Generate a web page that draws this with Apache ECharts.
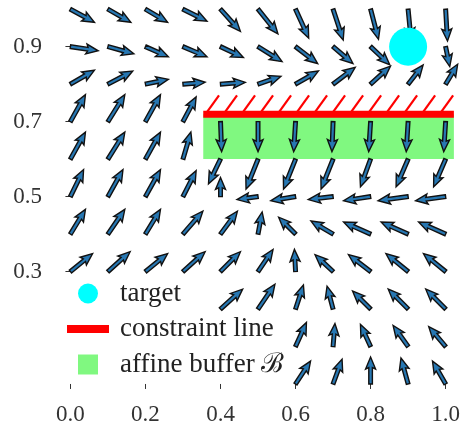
<!DOCTYPE html>
<html>
<head>
<meta charset="utf-8">
<script src="https://cdn.jsdelivr.net/npm/echarts@6/dist/echarts.min.js"></script>
<style>
html,body{margin:0;padding:0;background:#fff;}
#chart{width:463px;height:438px;}
</style>
</head>
<body>
<div id="chart"></div>
<script>
// ---- data ----
const xTickValues = [0.0, 0.2, 0.4, 0.6, 0.8, 1.0];
const yTickValues = [0.3, 0.5, 0.7, 0.9];

// quiver: tail positions and components (data units)
const arrowX = [
  0.0,0.1,0.2,0.3,0.4,0.5,0.6,0.7,0.8,0.9,1.0,
  0.0,0.1,0.2,0.3,0.4,0.5,0.6,0.7,0.8,1.0,
  0.0,0.1,0.2,0.3,0.4,0.5,0.6,0.7,0.8,0.9,1.0,
  0.0,0.1,0.2,0.3,0.4,0.5,0.6,0.7,0.8,0.9,1.0,
  0.0,0.1,0.2,0.3,0.4,0.5,0.6,0.7,0.8,0.9,1.0,
  0.0,0.1,0.2,0.3,0.4,0.5,0.6,0.7,0.8,0.9,1.0,
  0.0,0.1,0.2,0.3,0.4,0.5,0.6,0.7,0.8,0.9,1.0,
  0.0,0.1,0.2,0.3,0.4,0.5,0.6,0.7,0.8,0.9,1.0,
  0.4,0.5,0.6,0.7,0.8,0.9,1.0,
  0.6,0.7,0.8,0.9,1.0,
  0.6,0.7,0.8,0.9,1.0
];
const arrowY = [
  1.0,1.0,1.0,1.0,1.0,1.0,1.0,1.0,1.0,1.0,1.0,
  0.9,0.9,0.9,0.9,0.9,0.9,0.9,0.9,0.9,0.9,
  0.8,0.8,0.8,0.8,0.8,0.8,0.8,0.8,0.8,0.8,0.8,
  0.7,0.7,0.7,0.7,0.7,0.7,0.7,0.7,0.7,0.7,0.7,
  0.6,0.6,0.6,0.6,0.6,0.6,0.6,0.6,0.6,0.6,0.6,
  0.5,0.5,0.5,0.5,0.5,0.5,0.5,0.5,0.5,0.5,0.5,
  0.4,0.4,0.4,0.4,0.4,0.4,0.4,0.4,0.4,0.4,0.4,
  0.3,0.3,0.3,0.3,0.3,0.3,0.3,0.3,0.3,0.3,0.3,
  0.2,0.2,0.2,0.2,0.2,0.2,0.2,
  0.1,0.1,0.1,0.1,0.1,
  0.0,0.0,0.0,0.0,0.0
];
const arrowU = [
  0.064,0.061,0.059,0.064,0.053,0.053,0.035,0.027,0.021,0.008,0.005,
  0.074,0.069,0.061,0.064,0.061,0.064,0.059,0.053,0.051,0.011,
  0.064,0.066,0.061,0.059,0.066,0.061,0.061,0.059,0.053,0.040,0.032,
  0.040,0.045,0.040,0.035,0.003,0.000,-0.005,-0.003,-0.005,-0.005,-0.005,
  0.040,0.045,0.040,0.021,-0.032,-0.032,-0.032,-0.032,-0.027,-0.032,-0.032,
  0.035,0.040,0.040,0.035,0.000,-0.056,-0.066,-0.066,-0.072,-0.080,-0.080,
  0.040,0.045,0.040,0.053,0.045,0.011,-0.045,-0.059,-0.072,-0.072,-0.072,
  0.059,0.059,0.059,0.059,0.053,0.040,-0.003,-0.048,-0.059,-0.059,-0.059,
  0.059,0.045,0.021,-0.016,-0.048,-0.053,-0.053,
  0.029,0.005,-0.027,-0.040,-0.045,
  0.040,0.024,0.000,-0.019,-0.035
];
const arrowV = [
  -0.035,-0.035,-0.035,-0.032,-0.059,-0.066,-0.077,-0.082,-0.080,-0.082,-0.085,
  -0.011,-0.019,-0.027,-0.027,-0.029,-0.040,-0.045,-0.045,-0.048,-0.053,
  0.037,0.035,0.013,0.005,0.005,0.021,0.035,0.045,0.048,0.051,0.053,
  0.072,0.072,0.072,0.066,-0.080,-0.080,-0.080,-0.080,-0.080,-0.080,-0.080,
  0.072,0.072,0.072,0.072,-0.066,-0.080,-0.080,-0.080,-0.074,-0.074,-0.074,
  0.072,0.072,0.072,0.069,0.051,-0.008,-0.011,-0.008,-0.011,-0.011,-0.011,
  0.066,0.066,0.066,0.061,0.061,0.059,0.045,0.035,0.032,0.032,0.032,
  0.048,0.053,0.048,0.053,0.053,0.059,0.059,0.045,0.045,0.048,0.048,
  0.053,0.066,0.064,0.061,0.048,0.053,0.053,
  0.064,0.061,0.059,0.056,0.053,
  0.061,0.066,0.072,0.069,0.061
];

const target = [0.9, 0.9];
const constraintY = 0.72;
const constraintX = [0.354, 1.022];
const bufferY = [0.60, 0.72];
const hatchX = [0.360,0.408,0.456,0.504,0.552,0.600,0.648,0.696,0.744,0.792,0.840,0.888,0.936,0.984];
const hatchTop = 0.77;
const hatchDx = 0.036;

const legendNames = ['target', 'constraint line', 'affine buffer \u212C'];

// ---- chart ----
const FONT = 'Liberation Serif';
const quiverData = arrowX.map((x, i) => [x, arrowY[i], arrowU[i], arrowV[i]]);

const chart = echarts.init(document.getElementById('chart'), null, {renderer: 'canvas'});

function arrowItem(params, api) {
  const x = api.value(0), y = api.value(1), u = api.value(2), v = api.value(3);
  const p0 = api.coord([x, y]);
  const p1 = api.coord([x + u, y + v]);
  const dx = p1[0] - p0[0], dy = p1[1] - p0[1];
  const L = Math.hypot(dx, dy);
  if (L < 0.5) return null;
  const ux = dx / L, uy = dy / L, nx = -uy, ny = ux;
  let hl = 12, hal = 10.5, hw = 5.0, sw = 1.8;
  if (L < hl * 1.3) { const s = L / (hl * 1.3); hl *= s; hal *= s; hw *= s; sw *= s; }
  const pt = (a, b) => [p0[0] + ux * a + nx * b, p0[1] + uy * a + ny * b];
  const pts = [pt(0, sw), pt(L - hal, sw), pt(L - hl, hw), pt(L, 0), pt(L - hl, -hw), pt(L - hal, -sw), pt(0, -sw)];
  return {
    type: 'polygon',
    shape: {points: pts},
    style: {fill: '#2777b2', stroke: '#111', lineWidth: 1.4, lineJoin: 'miter'}
  };
}

const option = {
  animation: false,
  backgroundColor: '#fff',
  grid: {left: 57, right: 3.7, top: 0, bottom: 40, containLabel: false},
  xAxis: {
    type: 'value', min: -0.0358, max: 1.03,
    axisLine: {show: false},
    splitLine: {show: false},
    axisTick: {show: true, customValues: xTickValues, length: 5, lineStyle: {color: '#333', width: 1}},
    axisLabel: {customValues: xTickValues, formatter: v => Number(v).toFixed(1), fontFamily: FONT, fontSize: 23, color: '#333', margin: 5}
  },
  yAxis: {
    type: 'value', min: -0.0374, max: 1.0245,
    axisLine: {show: false},
    splitLine: {show: false},
    axisTick: {show: true, customValues: yTickValues, length: 5, lineStyle: {color: '#333', width: 1}},
    axisLabel: {customValues: yTickValues, formatter: v => Number(v).toFixed(1), fontFamily: FONT, fontSize: 23, color: '#333', margin: 15}
  },
  legend: {
    orient: 'vertical', left: 62, top: 275, padding: 5,
    itemWidth: 42, itemHeight: 20, itemGap: 8.5,
    align: 'left',
    textStyle: {fontFamily: FONT, fontSize: 27, color: '#222', lineHeight: 24, padding: [0, 0, 0, 6]},
    data: [
      {name: legendNames[0], icon: 'circle', itemStyle: {color: '#00ffff'}},
      {name: legendNames[1], icon: 'path://M0,0H42V8H0Z', itemStyle: {color: '#ff0000'}},
      {name: legendNames[2], icon: 'path://M0,0H10V10H0Z', itemStyle: {color: '#80f880'}}
    ]
  },
  series: [
    {
      name: legendNames[0], type: 'scatter', z: 5,
      data: [target], symbol: 'circle', symbolSize: 38,
      itemStyle: {color: '#00ffff', opacity: 1},
      silent: true
    },
    {
      name: legendNames[1], type: 'custom', z: 4, clip: false,
      itemStyle: {color: '#ff0000'},
      data: [[constraintX[0], constraintX[1], constraintY]],
      renderItem(params, api) {
        const a = api.coord([api.value(0), api.value(2)]);
        const b = api.coord([api.value(1), api.value(2)]);
        const children = hatchX.map(hx => {
          const s = api.coord([hx, constraintY]);
          const e = api.coord([hx + hatchDx, hatchTop]);
          return {type: 'line', shape: {x1: s[0], y1: s[1], x2: e[0], y2: e[1]}, style: {stroke: '#ff0000', lineWidth: 2.2}};
        });
        children.push({type: 'line', shape: {x1: a[0], y1: a[1], x2: b[0], y2: b[1]}, style: {stroke: '#ff0000', lineWidth: 7, lineCap: 'butt'}});
        return {type: 'group', children};
      }
    },
    {
      name: legendNames[2], type: 'custom', z: 1, clip: false,
      itemStyle: {color: '#80f880'},
      data: [[constraintX[0], constraintX[1], bufferY[0], bufferY[1]]],
      renderItem(params, api) {
        const p0 = api.coord([api.value(0), api.value(3)]);
        const p1 = api.coord([api.value(1), api.value(2)]);
        return {type: 'rect', shape: {x: p0[0], y: p0[1], width: p1[0] - p0[0], height: p1[1] - p0[1]}, style: {fill: '#80f880'}};
      }
    },
    {
      name: 'field', type: 'custom', z: 2, clip: false,
      data: quiverData,
      encode: {x: 0, y: 1},
      renderItem: arrowItem
    }
  ]
};
chart.setOption(option);
</script>
</body>
</html>
